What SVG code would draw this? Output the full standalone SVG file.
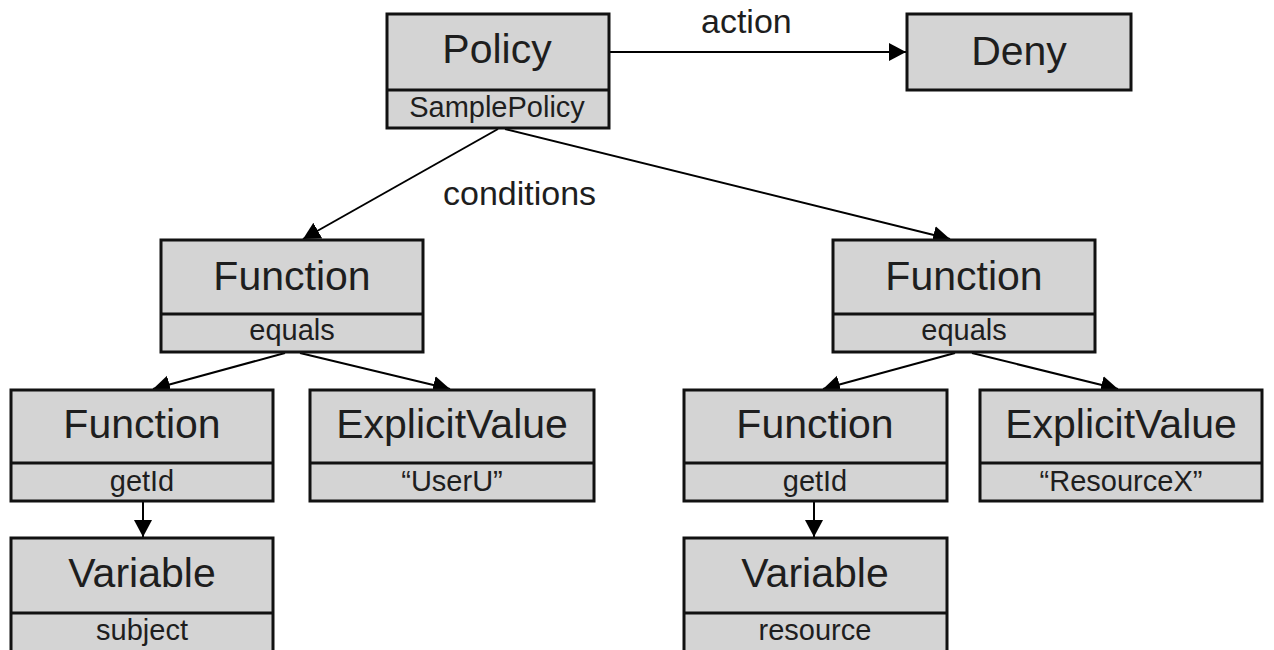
<svg xmlns="http://www.w3.org/2000/svg" width="1274" height="650" viewBox="0 0 1274 650">
<style>
.box{fill:#d4d4d4;stroke:#111;stroke-width:3}
.div{stroke:#111;stroke-width:3}
.main{font-family:"Liberation Sans",Arial,sans-serif;font-size:41px;fill:#1e1e1e;text-anchor:middle}
.sub{font-family:"Liberation Sans",Arial,sans-serif;font-size:29px;fill:#1e1e1e;text-anchor:middle}
.lbl{font-family:"Liberation Sans",Arial,sans-serif;font-size:34px;fill:#1e1e1e}
.con{stroke:#000;stroke-width:2;fill:none;marker-end:url(#arr)}
</style>
<defs>
<marker id="arr" markerUnits="userSpaceOnUse" markerWidth="19" markerHeight="19" refX="17" refY="9" orient="auto">
<path d="M0,0 L17,9 L0,18 z" fill="#000"/>
</marker>
</defs>
<rect width="1274" height="650" fill="#fff"/>
<g id="connectors">
<line class="con" x1="609" y1="52" x2="906" y2="52"/>
<line class="con" x1="498" y1="129" x2="303" y2="239"/>
<line class="con" x1="505" y1="129" x2="950" y2="239"/>
<line class="con" x1="285" y1="353" x2="153" y2="389"/>
<line class="con" x1="300" y1="353" x2="450" y2="389"/>
<line class="con" x1="955" y1="353" x2="823" y2="389"/>
<line class="con" x1="972" y1="353" x2="1118" y2="389"/>
<line class="con" x1="143" y1="502" x2="143" y2="537"/>
<line class="con" x1="814" y1="502" x2="814" y2="537"/>
<text class="lbl" x="701" y="33">action</text>
<text class="lbl" x="443" y="205">conditions</text>
</g>
<g id="policy">
<rect class="box" x="387" y="14" width="222" height="114"/>
<line class="div" x1="387" y1="90" x2="609" y2="90"/>
<text class="main" x="497" y="63">Policy</text>
<text class="sub" x="497" y="117">SamplePolicy</text>
</g>
<g id="deny">
<rect class="box" x="907" y="14" width="224" height="76"/>
<text class="main" x="1019" y="65">Deny</text>
</g>
<g id="function-equals-left">
<rect class="box" x="161" y="240" width="262" height="112"/>
<line class="div" x1="161" y1="314" x2="423" y2="314"/>
<text class="main" x="292" y="290">Function</text>
<text class="sub" x="292" y="340">equals</text>
</g>
<g id="function-equals-right">
<rect class="box" x="833" y="240" width="262" height="112"/>
<line class="div" x1="833" y1="314" x2="1095" y2="314"/>
<text class="main" x="964" y="290">Function</text>
<text class="sub" x="964" y="340">equals</text>
</g>
<g id="function-getid-left">
<rect class="box" x="11" y="390" width="262" height="111"/>
<line class="div" x1="11" y1="463" x2="273" y2="463"/>
<text class="main" x="142" y="438">Function</text>
<text class="sub" x="142" y="491">getId</text>
</g>
<g id="explicit-userU">
<rect class="box" x="310" y="390" width="284" height="111"/>
<line class="div" x1="310" y1="463" x2="594" y2="463"/>
<text class="main" x="452" y="438">ExplicitValue</text>
<text class="sub" x="452" y="491">“UserU”</text>
</g>
<g id="variable-subject">
<rect class="box" x="11" y="538" width="262" height="115"/>
<line class="div" x1="11" y1="613" x2="273" y2="613"/>
<text class="main" x="142" y="587">Variable</text>
<text class="sub" x="142" y="640">subject</text>
</g>
<g id="function-getid-right">
<rect class="box" x="684" y="390" width="263" height="111"/>
<line class="div" x1="684" y1="463" x2="947" y2="463"/>
<text class="main" x="815" y="438">Function</text>
<text class="sub" x="815" y="491">getId</text>
</g>
<g id="explicit-resourceX">
<rect class="box" x="980" y="390" width="282" height="111"/>
<line class="div" x1="980" y1="463" x2="1262" y2="463"/>
<text class="main" x="1121" y="438">ExplicitValue</text>
<text class="sub" x="1121" y="491">“ResourceX”</text>
</g>
<g id="variable-resource">
<rect class="box" x="684" y="538" width="263" height="115"/>
<line class="div" x1="684" y1="613" x2="947" y2="613"/>
<text class="main" x="815" y="587">Variable</text>
<text class="sub" x="815" y="640">resource</text>
</g>
</svg>
